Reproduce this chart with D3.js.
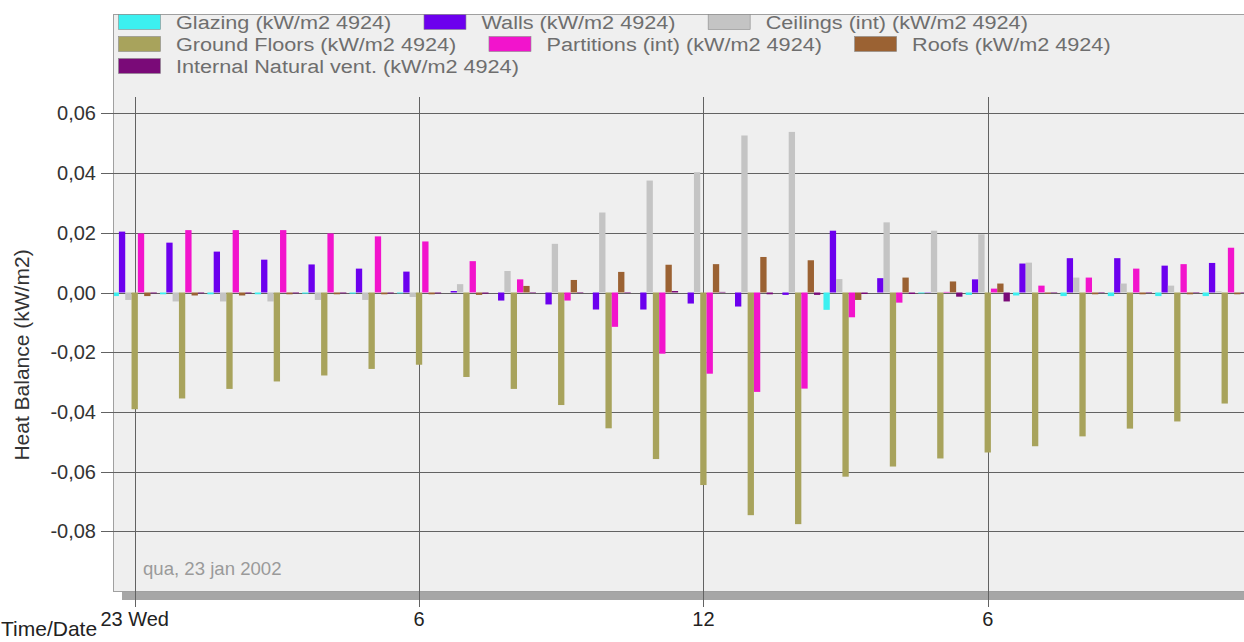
<!DOCTYPE html>
<html><head><meta charset="utf-8">
<script src="https://cdn.jsdelivr.net/npm/d3@7"></script>
<style>
html,body{margin:0;padding:0;background:#fff;overflow:hidden}
svg{display:block;font-family:"Liberation Sans",Arial,sans-serif}
</style></head><body>
<svg id="chart" width="1244" height="642"></svg>
<script>
// Hourly heat balance per building element, 23 Jan 2002
const hours = [0,1,2,3,4,5,6,7,8,9,10,11,12,13,14,15,16,17,18,19,20,21,22,23];

const seriesNames = [
  "Glazing (kW/m2 4924)",
  "Walls (kW/m2 4924)",
  "Ceilings (int) (kW/m2 4924)",
  "Ground Floors (kW/m2 4924)",
  "Partitions (int) (kW/m2 4924)",
  "Roofs (kW/m2 4924)",
  "Internal Natural vent. (kW/m2 4924)"
];
const seriesColors = ["#3cf0f0", "#6c00ee", "#c4c4c4", "#a8a35c", "#f214cc", "#9b6233", "#7a0a78"];

const glazing    = [-0.0012,-0.0006,-0.0006,-0.0006,-0.0004,-0.0004,-0.0003,0,0,0,0,0,0,0,0,-0.0058,0,-0.0003,-0.0008,-0.0010,-0.0012,-0.0012,-0.0012,-0.0012];
const walls      = [0.0204,0.0167,0.0137,0.0110,0.0094,0.0080,0.0070,0.0005,-0.0027,-0.0040,-0.0057,-0.0057,-0.0037,-0.0047,-0.0008,0.0207,0.0048,0.0001,0.0044,0.0097,0.0115,0.0115,0.0090,0.0099];
const ceilings   = [-0.0025,-0.0030,-0.0030,-0.0030,-0.0025,-0.0025,-0.0015,0.0028,0.0072,0.0163,0.0268,0.0375,0.0403,0.0526,0.0538,0.0045,0.0235,0.0207,0.0195,0.0100,0.0050,0.0030,0.0023,0.0004];
const groundFloors = [-0.0391,-0.0355,-0.0323,-0.0298,-0.0278,-0.0256,-0.0242,-0.0283,-0.0323,-0.0377,-0.0455,-0.0558,-0.0645,-0.0746,-0.0776,-0.0617,-0.0583,-0.0556,-0.0536,-0.0515,-0.0482,-0.0456,-0.0432,-0.0372];
const partitions = [0.0198,0.0209,0.0209,0.0209,0.0198,0.0188,0.0171,0.0105,0.0044,-0.0027,-0.0115,-0.0205,-0.0272,-0.0333,-0.0322,-0.0083,-0.0034,0.0002,0.0013,0.0023,0.0050,0.0080,0.0095,0.0150];
const roofs      = [-0.0012,-0.0010,-0.0010,-0.0006,-0.0006,-0.0006,-0.0006,-0.0008,0.0022,0.0042,0.0069,0.0093,0.0095,0.0119,0.0108,-0.0025,0.0050,0.0037,0.0030,-0.0004,-0.0006,-0.0006,-0.0006,-0.0006];
const internalVent = [-0.0003,-0.0003,-0.0003,-0.0003,-0.0003,-0.0003,-0.0003,-0.0004,-0.0002,-0.0002,-0.0002,0.0005,0.0002,-0.0006,-0.0008,-0.0005,-0.0005,-0.0014,-0.0030,-0.0002,-0.0002,-0.0002,-0.0002,-0.0002];

const seriesValues = [glazing, walls, ceilings, groundFloors, partitions, roofs, internalVent];

const yTickValues = [-0.08,-0.06,-0.04,-0.02,0,0.02,0.04,0.06];
const xTickHours  = [0, 6, 12, 18];
const xTickLabels = ["23 Wed", "6", "12", "6"];
const dateCaption = "qua, 23 jan 2002";
const yTitle = "Heat Balance (kW/m2)";
const xTitle = "Time/Date";

// ---- layout ----
const W = 1244, H = 642;
const boxLeft = 113, boxTop = 14, boxBottom = 591;
const plotTop = 97;

const svg = d3.select("#chart");

const x = d3.scaleBand().domain(hours).range([111, 1248.4]).paddingInner(0.067).paddingOuter(0.0335);
const xs = d3.scaleBand().domain(d3.range(seriesNames.length)).range([0, x.bandwidth()]);
const y = d3.scaleLinear().domain([-0.1, 0.06]).range([boxBottom, 113.4]);

const locale = d3.formatLocale({decimal: ",", thousands: ".", grouping: [3], currency: ["", ""], minus: "-"});
const fmt = locale.format(".2f");

// drop shadow + panel
svg.append("rect").attr("x", boxLeft + 9).attr("y", boxTop + 8)
  .attr("width", W).attr("height", boxBottom - boxTop + 1).attr("fill", "#a6a6a6");
svg.append("rect").attr("x", boxLeft + 0.5).attr("y", boxTop + 0.5)
  .attr("width", W).attr("height", boxBottom - boxTop)
  .attr("fill", "#efefef").attr("stroke", "#a0a0a0");

// horizontal grid with tick stubs
const gy = svg.append("g");
gy.selectAll("line").data(yTickValues).join("line")
  .attr("x1", 101).attr("x2", W)
  .attr("y1", d => Math.round(y(d)) + 0.5).attr("y2", d => Math.round(y(d)) + 0.5)
  .attr("stroke", "#626262").attr("stroke-width", 1);
gy.selectAll("text").data(yTickValues).join("text")
  .attr("x", 96).attr("y", d => y(d)).attr("dy", "0.35em")
  .attr("text-anchor", "end").attr("font-size", 20).attr("fill", "#333")
  .text(d => fmt(d));

// vertical grid at labelled hours
const xc = h => x(h) + x.bandwidth() / 2;
const gx = svg.append("g");
gx.selectAll("line").data(xTickHours).join("line")
  .attr("x1", d => Math.round(xc(d)) + 0.5).attr("x2", d => Math.round(xc(d)) + 0.5)
  .attr("y1", plotTop).attr("y2", 607)
  .attr("stroke", "#626262").attr("stroke-width", 1);
gx.selectAll("text").data(xTickHours).join("text")
  .attr("x", d => xc(d)).attr("y", 626)
  .attr("text-anchor", "middle").attr("font-size", 20).attr("fill", "#222")
  .text((d, i) => xTickLabels[i]);

// bars
svg.append("clipPath").attr("id", "plotclip").append("rect")
  .attr("x", boxLeft + 1).attr("y", plotTop).attr("width", W).attr("height", boxBottom - plotTop);
const bars = svg.append("g").attr("clip-path", "url(#plotclip)");
seriesValues.forEach((vals, si) => {
  bars.append("g").attr("fill", seriesColors[si])
    .selectAll("rect").data(hours).join("rect")
    .attr("x", h => x(h) + xs(si))
    .attr("width", xs.bandwidth())
    .attr("y", h => y(Math.max(0, vals[h])))
    .attr("height", h => Math.abs(y(vals[h]) - y(0)));
});

// legend (flowing rows inside the panel); labels use a slightly wide face
const legend = svg.append("g");
const legendFont = 19, legendStretch = 1.14;
let lx = 118, row = 0;
const rowY = [22, 44, 66];
seriesNames.forEach((name, i) => {
  const g = legend.append("g");
  const t = g.append("text").attr("font-size", legendFont).attr("fill", "#6e6e6e").text(name);
  const tw = t.node().getComputedTextLength() * legendStretch;
  if (lx + 58 + tw > W - 4) { lx = 118; row += 1; }
  const cy = rowY[row];
  g.append("rect").attr("x", lx + 0.5).attr("y", cy - 7.5).attr("width", 42).attr("height", 15)
    .attr("fill", seriesColors[i]).attr("stroke", "#8a8a8a").attr("stroke-width", 0.6);
  t.attr("transform", `translate(${lx + 58},${cy}) scale(${legendStretch},1)`).attr("dy", "0.35em");
  lx += 58 + tw + 32;
});

// captions
svg.append("text").attr("x", 143).attr("y", 575).attr("font-size", 18.6).attr("fill", "#9a9a9a").text(dateCaption);
svg.append("text").attr("transform", `translate(29,${355}) rotate(-90)`)
  .attr("text-anchor", "middle").attr("font-size", 21).attr("fill", "#333").text(yTitle);
svg.append("text").attr("x", 1).attr("y", 636).attr("font-size", 21).attr("fill", "#222").text(xTitle);
</script>
</body></html>
